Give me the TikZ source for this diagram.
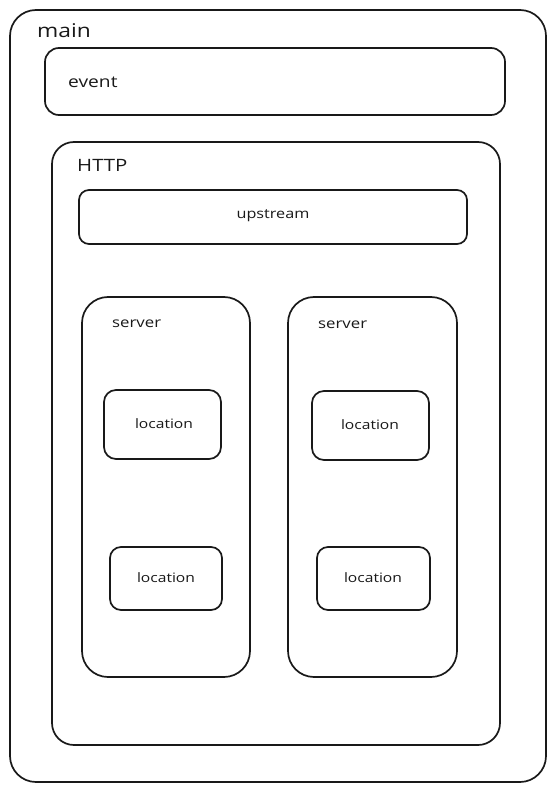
\documentclass[tikz,border=0pt]{standalone}
\usepackage{fontspec}
\setmainfont[FakeStretch=1.2]{Open Sans}
\begin{document}
\begin{tikzpicture}[x=1pt,y=-1pt,
  boxy/.style={draw=black!90,line width=1.7pt,rounded corners=#1},
  boxy/.default=14pt,
  lbl/.style={font=\fontsize{#1}{#1}\selectfont,inner sep=0pt,text=black!90},
  lbl/.default=11]
\useasboundingbox (0,0) rectangle (557,791);
\fill[white] (0,0) rectangle (557,791);
% main
\draw[boxy=26pt] (10,10) rectangle (546,782);
\node[lbl=19,anchor=west] (mainlbl) at (37,31) {main};
% event
\draw[boxy=14pt] (45,48) rectangle (505,115);
\node[lbl=16,anchor=west] (eventlbl) at (68,82) {event};
% HTTP
\draw[boxy=22pt] (52,142) rectangle (500,745);
\node[lbl=17,anchor=west] (httplbl) at (77,165) {HTTP};
% upstream
\draw[boxy=10pt] (79,190) rectangle (467,244);
\node[lbl=13.5] (upstreamlbl) at (273,216) {upstream};
% servers
\draw[boxy=26pt] (82,297) rectangle (250,677);
\node[lbl=14,anchor=west] (server1lbl) at (112,324) {server};
\draw[boxy=26pt] (288,297) rectangle (457,677);
\node[lbl=14,anchor=west] (server2lbl) at (318,325) {server};
% locations
\draw[boxy=12pt] (104,390) rectangle (221,459);
\node[lbl=13] (loc1) at (164,424) {location};
\draw[boxy=12pt] (312,391) rectangle (429,460);
\node[lbl=13] (loc2) at (370,425) {location};
\draw[boxy=11pt] (110,547) rectangle (222,610);
\node[lbl=13] (loc3) at (166,578) {location};
\draw[boxy=11pt] (317,547) rectangle (430,610);
\node[lbl=13] (loc4) at (373,578) {location};
\end{tikzpicture}
\end{document}
